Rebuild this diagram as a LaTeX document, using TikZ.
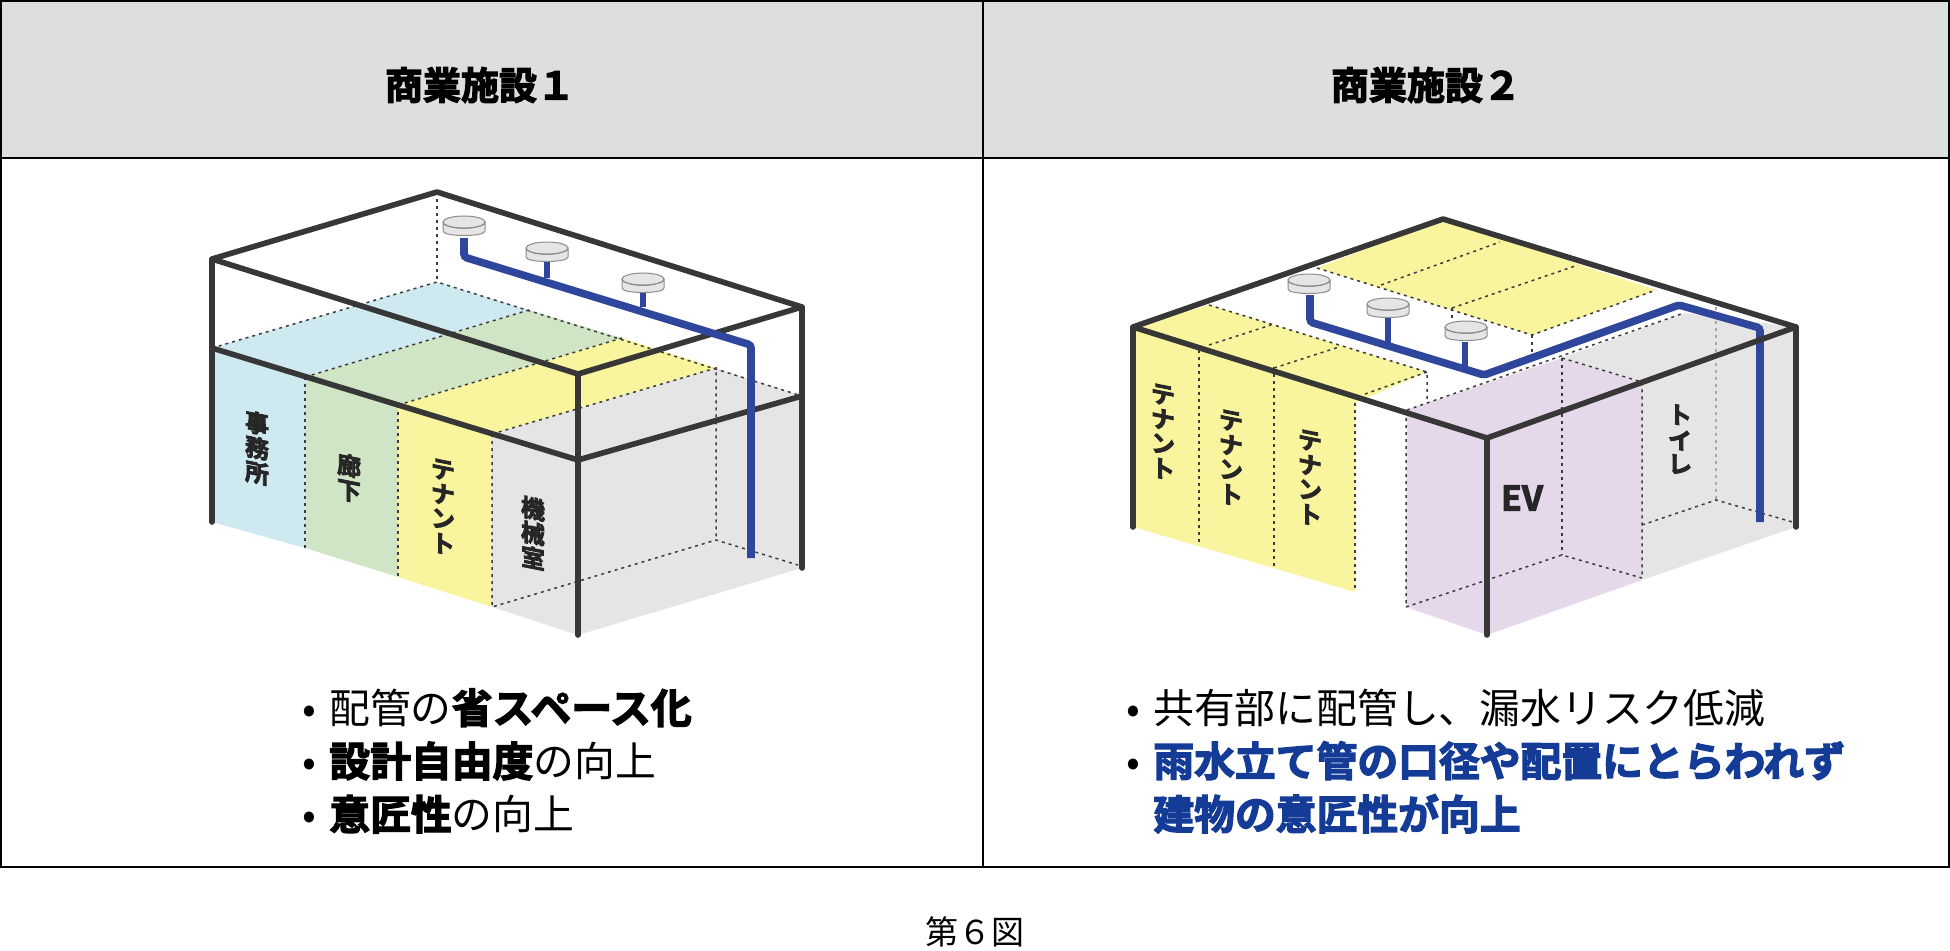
\documentclass[tikz,border=0pt]{standalone}
\usepackage{fontspec}
\setmainfont{Noto Sans CJK JP}
\newfontfamily\jpblack[FakeBold=3.2]{Noto Sans CJK JP Bold}
\usetikzlibrary{positioning,shapes.geometric,calc}
\definecolor{BldgEdge}{RGB}{55,55,55}
\definecolor{BldgDot}{RGB}{60,60,60}
\definecolor{ZoneBlue}{RGB}{207,233,241}
\definecolor{ZoneGreen}{RGB}{207,229,197}
\definecolor{ZoneYellow}{RGB}{249,244,158}
\definecolor{ZoneGray}{RGB}{229,229,229}
\definecolor{ZonePurple}{RGB}{229,216,234}
\definecolor{PipeBlue}{RGB}{46,70,156}
\definecolor{TextBlue}{RGB}{20,60,150}
\definecolor{HeadGray}{RGB}{221,223,222}
\tikzset{
  wall/.style={draw=BldgEdge, line width=2.8pt, line cap=round, line join=round},
  dots/.style={draw=BldgDot, line width=0.75pt, dash pattern=on 1.5pt off 2pt},
  pipe/.style={draw=PipeBlue, line width=3.8pt, rounded corners=1.5pt},
  branch/.style={draw=PipeBlue, line width=3.3pt},
  grid line/.style={draw=black, line width=0.7pt},
  head label/.style={font=\fontsize{19}{21}\selectfont\jpblack, inner sep=0pt},
  zone label/.style={font=\fontsize{12}{12.4}\selectfont\jpblack, text=black!85, align=center, inner sep=0pt, yslant=-0.2},
  point list/.style={font=\fontsize{20.4}{26.6}\selectfont, align=left, anchor=west, inner sep=0pt},
  roof drain/.pic={
    \fill[ZoneGray, draw=black!45, line width=0.5pt] (-21,-4) -- (-21,5) .. controls (-21,11) and (21,11) .. (21,5) -- (21,-4) -- cycle;
    \draw[fill=ZoneGray, draw=black!45, line width=0.5pt] (0,-4) ellipse[x radius=21, y radius=6];
    \draw[black!45, line width=0.4pt] (-21,-2) .. controls (-10,4) and (10,4) .. (21,-2);
  }
}
\newcommand{\bul}{\makebox[13.5pt][l]{•}}
\begin{document}
\begin{tikzpicture}[x=0.5pt,y=-0.5pt]
\useasboundingbox (0,0) rectangle (1950,950);
% table
\fill[HeadGray] (1,1) rectangle (1949,158);
\draw[grid line] (1,1) rectangle (1949,867);
\draw[grid line] (1,158) -- (1949,158);
\draw[grid line] (983,1) -- (983,867);
\node[head label] (headA) at (480,85) {商業施設１};
\node[head label] (headB) at (1426,85) {商業施設２};
% building 1
\fill[ZoneBlue] (212,348) -- (437,282) -- (529,310) -- (305,377) -- (305,548) -- (212,522) -- cycle;
\fill[ZoneGreen] (305,377) -- (529,310) -- (622,338) -- (398,405) -- (398,577) -- (305,548) -- cycle;
\fill[ZoneYellow] (398,405) -- (622,338) -- (716,368) -- (492,434) -- (492,607) -- (398,577) -- cycle;
\fill[ZoneGray] (492,434) -- (716,368) -- (802,396) -- (802,568) -- (578,635) -- (492,607) -- cycle;
\draw[dots] (437,192) -- (437,282);
\draw[dots] (212,348) -- (437,282) -- (802,396);
\draw[dots] (305,377) -- (529,310);
\draw[dots] (398,405) -- (622,338);
\draw[dots] (492,434) -- (716,368) -- (716,540);
\draw[dots] (305,377) -- (305,548);
\draw[dots] (398,405) -- (398,577);
\draw[dots] (492,434) -- (492,607) -- (716,540) -- (798,565);
\draw[wall] (212,259) -- (437,192) -- (802,307) -- (578,374) -- cycle;
\draw[wall] (212,348) -- (578,460) -- (802,396);
\draw[wall] (212,259) -- (212,522);
\draw[wall] (578,374) -- (578,635);
\draw[wall] (802,307) -- (802,568);
\draw[pipe] (464,238) -- (464,257) -- (751,345) -- (751,558);
\draw[branch] (547,262) -- (547,278);
\draw[branch] (643,293) -- (643,307);
\foreach \dx/\dy in {464/226,547/252,643/283}
  \pic at (\dx,\dy) {roof drain};
\node[zone label] (office) at (257,448) {事\\務\\所};
\node[zone label] (corridor) at (349,478) {廊\\下};
\node[zone label] (tenantA) at (443,507) {テ\\ナ\\ン\\ト};
\node[zone label] (plant) at (533,533) {機\\械\\室};
% building 2
\fill[ZoneYellow] (1317,268) -- (1443,219) -- (1656,290) -- (1532,335) -- cycle;
\fill[ZoneYellow] (1133,327) -- (1209,305) -- (1427,372) -- (1355,403) -- (1355,592) -- (1133,527) -- cycle;
\fill[ZonePurple] (1407,410) -- (1562,358) -- (1642,382) -- (1642,580) -- (1487,635) -- (1406,607) -- cycle;
\fill[ZoneGray] (1562,358) -- (1684,313) -- (1796,327) -- (1796,527) -- (1642,580) -- (1642,382) -- cycle;
\draw[dots] (1317,268) -- (1532,335) -- (1656,290);
\draw[dots] (1381,285) -- (1500,242);
\draw[dots] (1452,308) -- (1578,265);
\draw[dots] (1532,335) -- (1532,352);
\draw[dots] (1452,308) -- (1452,330);
\draw[dots] (1209,305) -- (1427,372) -- (1427,403);
\draw[dots] (1427,372) -- (1365,394);
\draw[dots] (1209,345) -- (1271,325);
\draw[dots] (1274,368) -- (1339,347);
\draw[dots] (1199,350) -- (1199,545);
\draw[dots] (1274,367) -- (1274,568);
\draw[dots] (1355,403) -- (1355,592);
\draw[dots] (1407,410) -- (1684,313);
\draw[dots] (1406,418) -- (1406,607) -- (1562,555) -- (1642,578);
\draw[dots] (1562,358) -- (1562,555);
\draw[dots] (1562,358) -- (1642,382) -- (1642,578);
\draw[dots] (1642,525) -- (1716,500) -- (1796,523);
\draw[dots, draw=black!35] (1716,307) -- (1716,500);
\draw[pipe] (1310,295) -- (1310,322) -- (1484,375) -- (1679,305) -- (1760,328) -- (1760,522);
\draw[branch] (1388,318) -- (1388,343);
\draw[branch] (1465,342) -- (1465,368);
\foreach \dx/\dy in {1309/284,1388/308,1466/331}
  \pic at (\dx,\dy) {roof drain};
\draw[wall] (1133,327) -- (1443,219) -- (1796,327) -- (1487,438) -- cycle;
\draw[wall] (1133,327) -- (1133,527);
\draw[wall] (1487,438) -- (1487,635);
\draw[wall] (1796,327) -- (1796,527);
\node[zone label] (tenantB) at (1163,432) {テ\\ナ\\ン\\ト};
\node[zone label] (tenantC) at (1231,458) {テ\\ナ\\ン\\ト};
\node[zone label] (tenantD) at (1310,478) {テ\\ナ\\ン\\ト};
\node[zone label, yslant=0.2, font=\fontsize{17}{17}\selectfont\jpblack] (lift) at (1522,498) {EV};
\node[zone label] (toilet) at (1680,440) {ト\\イ\\レ};
% bullet points
\node[point list] (pointsA) at (302,761) {\bul 配管の{\jpblack 省スペース化}\\\bul{\jpblack 設計自由度}の向上\\\bul{\jpblack 意匠性}の向上};
\node[point list] (pointsB) at (1126,761) {\bul 共有部に配管し、漏水リスク低減\\\bul{\jpblack\color{TextBlue}雨水立て管の口径や配置にとらわれず}\\\hspace*{13.5pt}{\jpblack\color{TextBlue}建物の意匠性が向上}};
\node[font=\fontsize{16.5}{18}\selectfont, inner sep=0pt] (caption) at (975,932) {第６図};
\end{tikzpicture}
\end{document}
